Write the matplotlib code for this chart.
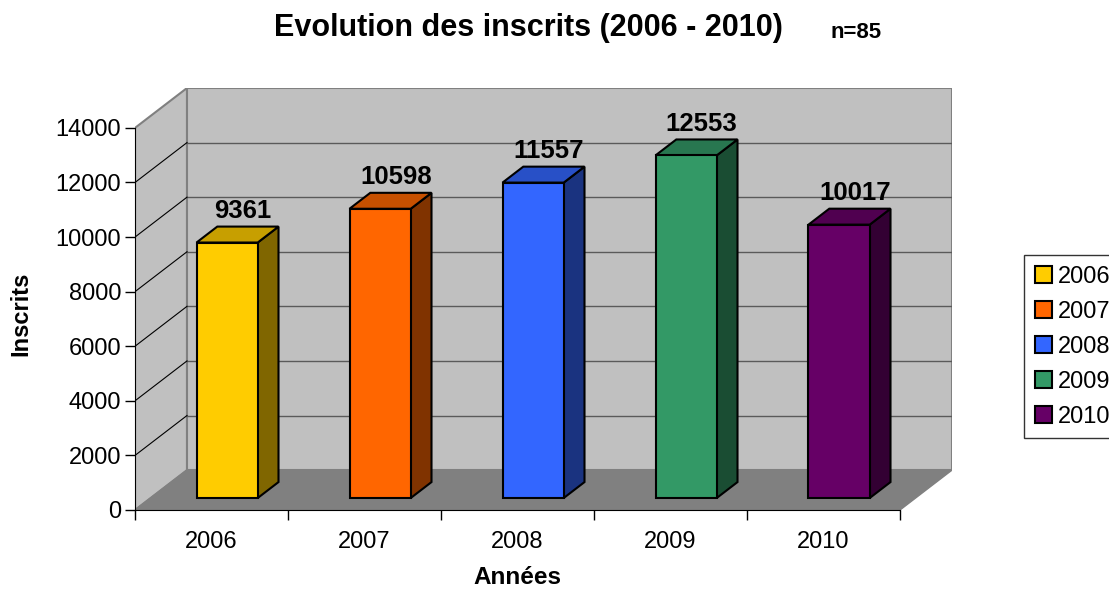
import numpy as np
import matplotlib.pyplot as plt
from matplotlib.patches import Polygon, Patch
from matplotlib.colors import to_rgb

plt.rcParams['font.family'] = ['Liberation Sans', 'DejaVu Sans']

years = ['2006', '2007', '2008', '2009', '2010']
inscrits = [9361, 10598, 11557, 12553, 10017]
colors = ['#FFCC00', '#FF6600', '#3366FF', '#339966', '#660066']

W, H = 1109, 590
fig = plt.figure(figsize=(W / 100, H / 100), dpi=100)

# depth vector of the pseudo 3D box (in data units)
dx = 52 / 153
dy = 1462
ymax = 14000
n = len(years)

ax = fig.add_axes([135 / W, (H - 510) / H, (952 - 135) / W, (510 - 88) / H])
ax.set_xlim(0, n + dx)
ax.set_ylim(0, ymax + dy)

# walls and floor
ax.add_patch(Polygon([(0, 0), (dx, dy), (dx, ymax + dy), (0, ymax)],
                     closed=True, facecolor='#C0C0C0', edgecolor='#808080', lw=1.5, zorder=1))
ax.add_patch(Polygon([(dx, dy), (n + dx, dy), (n + dx, ymax + dy), (dx, ymax + dy)],
                     closed=True, facecolor='#C0C0C0', edgecolor='#808080', lw=1.5, zorder=1))
ax.add_patch(Polygon([(0, 0), (n, 0), (n + dx, dy), (dx, dy)],
                     closed=True, facecolor='#808080', edgecolor='#808080', lw=1, zorder=2))

for v in range(2000, ymax, 2000):
    ax.plot([dx, n + dx], [v + dy, v + dy], color='#5a5a5a', lw=1, zorder=1.5)
    ax.plot([0, dx], [v, v + dy], color='black', lw=0.8, zorder=1.5)

# bars
d0, d1 = 0.3, 0.7
for i, (v, c) in enumerate(zip(inscrits, colors)):
    rgb = np.array(to_rgb(c))
    x0 = i + 0.3 + d0 * dx
    x1 = i + 0.7 + d0 * dx
    yb = d0 * dy
    ox, oy = (d1 - d0) * dx, (d1 - d0) * dy
    front = [(x0, yb), (x1, yb), (x1, yb + v), (x0, yb + v)]
    top = [(x0, yb + v), (x1, yb + v), (x1 + ox, yb + v + oy), (x0 + ox, yb + v + oy)]
    side = [(x1, yb), (x1 + ox, yb + oy), (x1 + ox, yb + v + oy), (x1, yb + v)]
    ax.add_patch(Polygon(side, closed=True, facecolor=rgb * 0.5, edgecolor='black', lw=1.5, zorder=3))
    ax.add_patch(Polygon(top, closed=True, facecolor=rgb * 0.78, edgecolor='black', lw=1.5, zorder=3))
    ax.add_patch(Polygon(front, closed=True, facecolor=rgb, edgecolor='black', lw=1.5, zorder=4))
    ax.text(i + 0.5 + 0.6 * dx, v + 0.3 * dy + 1150, str(v), ha='center', va='center',
            fontsize=18.5, fontweight='bold', zorder=5)

# axes lines and ticks
for s in ['top', 'right']:
    ax.spines[s].set_visible(False)
ax.spines['left'].set_bounds(0, ymax)
ax.spines['bottom'].set_bounds(0, n)
ax.spines['left'].set_zorder(6)
ax.spines['bottom'].set_zorder(6)
ax.set_yticks(range(0, ymax + 1, 2000))
ax.tick_params(axis='y', labelsize=17, length=7, width=1, direction='out', pad=3)
ax.set_xticks(range(0, n + 1))
ax.set_xticklabels([])
ax.set_xticks(np.arange(n) + 0.5, minor=True)
ax.set_xticklabels(years, minor=True)
ax.tick_params(axis='x', which='major', length=7, width=1, direction='out')
ax.tick_params(axis='x', which='minor', length=0, labelsize=17, pad=15)
ax.patch.set_visible(False)

fig.text(274 / W, 1 - 28 / H, 'Evolution des inscrits (2006 - 2010)', ha='left', va='center',
         fontsize=22, fontweight='bold')
fig.text(831 / W, 1 - 33 / H, 'n=85', ha='left', va='center', fontsize=16, fontweight='bold')
fig.text(21 / W, 1 - 314 / H, 'Inscrits', rotation=90, ha='center', va='center',
         fontsize=17, fontweight='bold')
fig.text(517 / W, 1 - 578 / H, 'Années', ha='center', va='center', fontsize=17.5, fontweight='bold')

handles = [Patch(facecolor=c, edgecolor='black', lw=1.5) for c in colors]
leg = fig.legend(handles, years, loc='upper left', bbox_to_anchor=(1024 / W, 1 - 255 / H),
                 fontsize=17, frameon=True, fancybox=False, edgecolor='black',
                 handlelength=0.75, handleheight=0.75, handletextpad=0.25, labelspacing=0.55,
                 borderpad=0.45, borderaxespad=0)
leg.get_frame().set_linewidth(1)

fig.savefig('out.png', dpi=100)
